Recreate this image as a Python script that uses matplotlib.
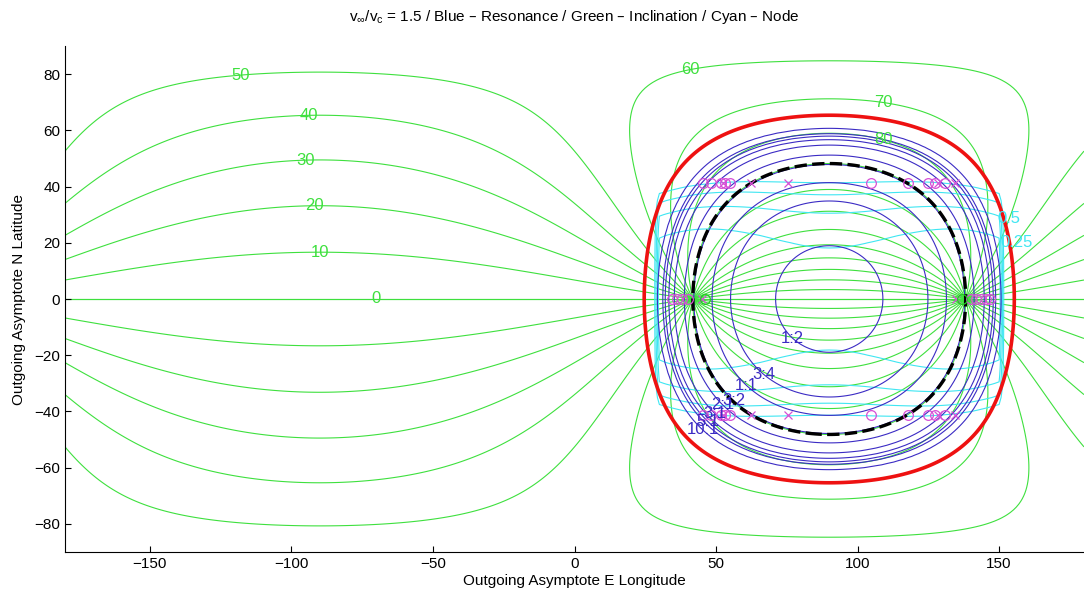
import numpy as np
import matplotlib
matplotlib.use('Agg')
import matplotlib.pyplot as plt

plt.rcParams['font.family'] = ['Liberation Sans', 'DejaVu Sans']
plt.rcParams['mathtext.default'] = 'regular'

#=========================================================
#            FLYBY SETUP / CONTOUR LEVELS
#=========================================================
vinf_ratio = 1.5          # v_inf / v_circular of the planet
grid_step = 1.0           # deg, fine grid
node_step = 2.5           # deg, coarse grid used for the node search

incl_levels = [0, 10, 20, 30, 40, 50, 60, 70, 80, 90,
               100, 110, 120, 130, 140, 150, 160, 170, 180]
incl_label_lon = [-70, -90, -92, -95, -94, -118, 41, 109, 109]
incl_label_lat = [0, 16, 33, 49, 65, 80, 81, 70, 56.5]

res_periods = [0.5, 0.75, 1.0, 1.5, 2.0, 3.0, 4.0, 5.0, 6.0, 10.0]
res_names = ['1:2', '3:4', '1:1', '3:2', '2:1', '3:1', '', '5:1', '', '10:1']
res_label_lon = [77, 67.7, 61, 56.6, 52, 50, None, 48.5, None, 45.3]
res_label_lat = [-14, -26, -30.6, -35.6, -38, -40, None, -42, None, -46.6]

node_levels = [0.25, 0.5, 0.75, 1.0]
node_box_lon = [30, 150]
node_box_lat = [-42.5, 42.5]
node_names = ['0.25', '0.5', '', '']
node_label_lon = [156, 153.5, None, None]
node_label_lat = [20, 28.5, None, None]

ring_circ_lon = [45.4, 48.4, 51.9, 53.1, 54.9, 104.9, 117.8, 124.9, 127.3, 130.8]
ring_x_lon = [52.5, 62.5, 75.5, 128.4, 134.3]
ring_lat = 41.4
eq_circ_lon = [34.3, 36.1, 37.9, 40.0, 140.2, 142.0, 143.7, 145.5, 146.7]
eq_x_lon = [45.1, 134.9]
eq_green_lon = [46.0, 136.8]

#=========================================================
#            FIELDS
#=========================================================
def velocity(step):
    lon = np.arange(-180, 180 + step, step)
    lat = np.arange(-90, 90 + step, step)
    LON, LAT = np.meshgrid(lon, lat)
    lo = np.radians(LON)
    la = np.radians(LAT)
    # heliocentric velocity (planet moves along -y, sun direction along +x)
    vx = vinf_ratio*np.cos(la)*np.cos(lo)
    vy = -1.0 + vinf_ratio*np.cos(la)*np.sin(lo)
    vz = vinf_ratio*np.sin(la)
    return LON, LAT, vx, vy, vz

LON, LAT, vx, vy, vz = velocity(grid_step)
hz = -vy
incl = np.degrees(np.arctan2(np.abs(vz), hz))
inv_a = 2.0 - (vx**2 + vy**2 + vz**2)
period = np.where(inv_a > 0, np.abs(inv_a)**-1.5, np.nan)

NLON, NLAT, nvx, nvy, nvz = velocity(node_step)
p = nvy**2 + nvz**2
node = p/(2.0 - p)
inbox = ((NLON >= node_box_lon[0]) & (NLON <= node_box_lon[1]) &
         (NLAT >= node_box_lat[0]) & (NLAT <= node_box_lat[1]))
node = np.where(inbox, node, 1.5)

#=========================================================
#              MAKE A PLOT
#=========================================================
green = '#3ee03e'
blue = '#3b2bc4'
cyan = '#3fe6f2'
mag = '#d64fd6'

fig = plt.figure(figsize=(10.84, 6.03), dpi=100)
ax = fig.add_axes([65/1084., 51/603., 1019/1084., 506/603.])

def family(X, Y, field, levels, names, lab_lon, lab_lat, color, z, keep_pos=False):
    for k, lv in enumerate(levels):
        cs = ax.contour(X, Y, field, levels=[lv], colors=color,
                        linewidths=0.8, zorder=z)
        if k < len(lab_lon) and lab_lon[k] is not None and names[k]:
            ax.clabel(cs, manual=[(lab_lon[k], lab_lat[k])], inline=False,
                      fmt={lv: names[k]}, fontsize=12, colors=color)
            for t in cs.labelTexts:
                t.set_rotation(0)
                t.set_zorder(7)
                if keep_pos:
                    t.set_position((lab_lon[k], lab_lat[k]))

lev = list(np.clip(incl_levels, 1e-3, 180 - 1e-3))
family(LON, LAT, incl, lev, [str(v) for v in incl_levels], incl_label_lon, incl_label_lat, green, 1)
family(NLON, NLAT, node, node_levels, node_names, node_label_lon, node_label_lat, cyan, 2, True)
family(LON, LAT, period, res_periods, res_names, res_label_lon, res_label_lat, blue, 3)
ax.contour(LON, LAT, hz, levels=[0], colors='k', linewidths=2.4, linestyles='--', zorder=4)
ax.contour(LON, LAT, inv_a, levels=[0], colors='#ee1111', linewidths=2.6, zorder=5)

# markers
for s in (1, -1):
    ax.plot(ring_circ_lon, [s*ring_lat]*len(ring_circ_lon), 'o', mfc='none', mec=mag,
            ms=7, mew=0.9, zorder=6)
    ax.plot(ring_x_lon, [s*ring_lat]*len(ring_x_lon), 'x', color=mag, ms=5.5, mew=0.9, zorder=6)
ax.plot(eq_circ_lon, [0]*len(eq_circ_lon), 'o', mfc='none', mec=mag, ms=7, mew=0.9, zorder=6)
ax.plot(eq_x_lon, [0]*len(eq_x_lon), 'x', color=mag, ms=5.5, mew=0.9, zorder=6)
ax.plot(eq_green_lon, [0]*len(eq_green_lon), 'o', mfc='none', mec='#22cc22', ms=7, mew=0.9, zorder=6)

ax.set_xlim(-180, 180)
ax.set_ylim(-90, 90)
ax.set_xticks([-150, -100, -50, 0, 50, 100, 150])
ax.set_yticks([-80, -60, -40, -20, 0, 20, 40, 60, 80])
ax.tick_params(direction='in', length=4, labelsize=11)
ax.spines['top'].set_visible(False)
ax.spines['right'].set_visible(False)
ax.set_xlabel('Outgoing Asymptote E Longitude', fontsize=11, labelpad=2)
ax.set_ylabel('Outgoing Asymptote N Latitude', fontsize=11, labelpad=6)
ax.set_title(r'v$_\infty$/v$_c$ = 1.5 / Blue – Resonance / Green – Inclination / Cyan – Node',
             fontsize=11, pad=18)

plt.savefig('out.png', dpi=100)
